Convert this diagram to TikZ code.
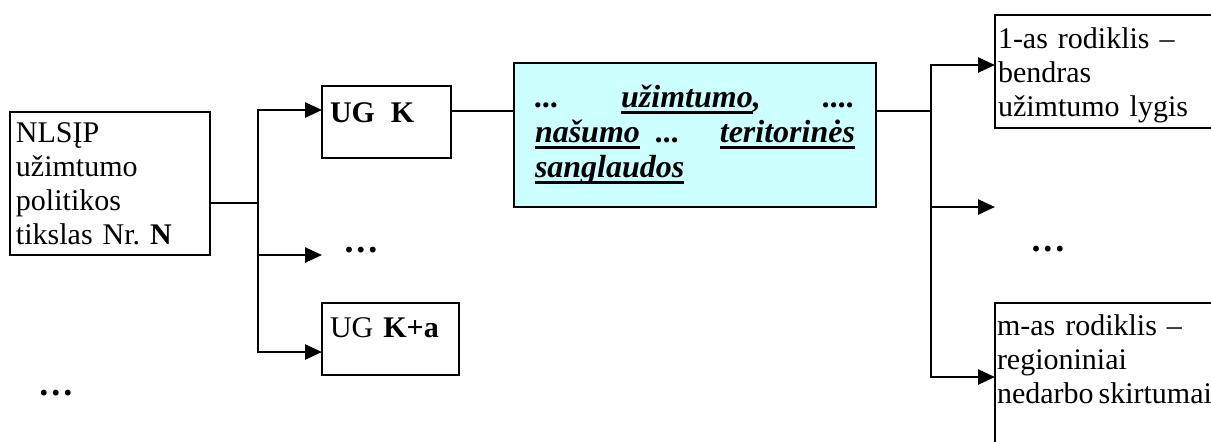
\documentclass[tikz,border=0pt]{standalone}
\usepackage{fontspec}
\setmainfont{Liberation Serif}
\usetikzlibrary{arrows.meta}

\definecolor{paleaqua}{HTML}{CCFFFF}
\newcommand\ulword[1]{\leavevmode\setbox0\hbox{#1}%
  \rlap{\rule[-3.5pt]{\wd0}{1.4pt}}\box0\relax}
\newcommand\bigdots{\textbf{.\hspace{1.5pt}.\hspace{1.5pt}.}}
\frenchspacing

\begin{document}
\begin{tikzpicture}[x=0.5pt, y=-0.5pt, line width=1.3pt,
    >={Triangle[length=8.5pt,width=7.5pt]},
    box/.style={draw, anchor=north west, align=left, inner ysep=0pt,
      outer sep=0pt, font=\fontsize{15}{17}\selectfont},
    dots/.style={inner sep=0pt, font=\fontsize{18}{20}\selectfont}]

  \useasboundingbox (0,0) rectangle (1211,441);
  \clip (0,0) rectangle (1211,441);

  \node[box, text width=94pt, inner xsep=3pt, text height=15pt,
    text depth=56.5pt] (goal) at (10,112)
    {NLSĮP\\užimtumo\\politikos\\tikslas Nr. \textbf{N}};
  \node[box, text width=56.5pt, inner xsep=4pt, text height=18pt,
    text depth=18pt] (ugk) at (322,86) {\textbf{UG\hspace{8pt}K}};
  \node[box, text width=60.5pt, inner xsep=4pt, text height=17pt,
    text depth=19pt] (ugka) at (322,303) {UG \textbf{K+a}};
  \node[box, fill=paleaqua, text width=160pt, inner xsep=10.5pt,
    text height=22pt, text depth=50pt,
    font=\fontsize{16}{17.5}\selectfont\bfseries\itshape] (target) at (514,63)
    {...\hfill\ulword{užimtumo},\hfill ....\\
     \ulword{našumo}\hspace{8pt}...\hfill\ulword{teritorinės}\\
     \ulword{sanglaudos}};
  \node[box, text width=112pt, inner xsep=1.5pt, text height=16.5pt,
    text depth=40pt] (ind1) at (995,15)
    {1-as rodiklis –\\bendras\\užimtumo lygis};
  \node[box, text width=112pt, inner xsep=1pt, text height=16pt,
    text depth=64pt] (indm) at (995,303)
    {m-as rodiklis –\\regioniniai\\nedarbo\hspace{2.5pt}skirtumai};

  \node[dots] (gdots) at (56,393) {\bigdots};
  \node[dots] (udots) at (361,250) {\bigdots};
  \node[dots] (rdots) at (1048,249) {\bigdots};

  % branch points
  \coordinate (lsplit) at (258,203);
  \coordinate (ltop) at (258,110);
  \coordinate (lmid) at (258,255);
  \coordinate (lbot) at (258,352);
  \coordinate (rsplit) at (931,111);
  \coordinate (rtop) at (931,65);
  \coordinate (rmid) at (931,207);
  \coordinate (rbot) at (931,377);

  \draw (goal.east |- lsplit) -- (lsplit);
  \draw[<->] (ltop -| ugk.west) -- (ltop) -- (lbot) -- (lbot -| ugka.west);
  \draw[->] (lmid) -- (lmid -| ugk.west);

  \draw (ugk.east |- rsplit) -- (target.west |- rsplit);
  \draw (target.east |- rsplit) -- (rsplit);

  \draw[<->] (rtop -| ind1.west) -- (rtop) -- (rbot) -- (rbot -| indm.west);
  \draw[->] (rmid) -- (rmid -| ind1.west);

\end{tikzpicture}
\end{document}
